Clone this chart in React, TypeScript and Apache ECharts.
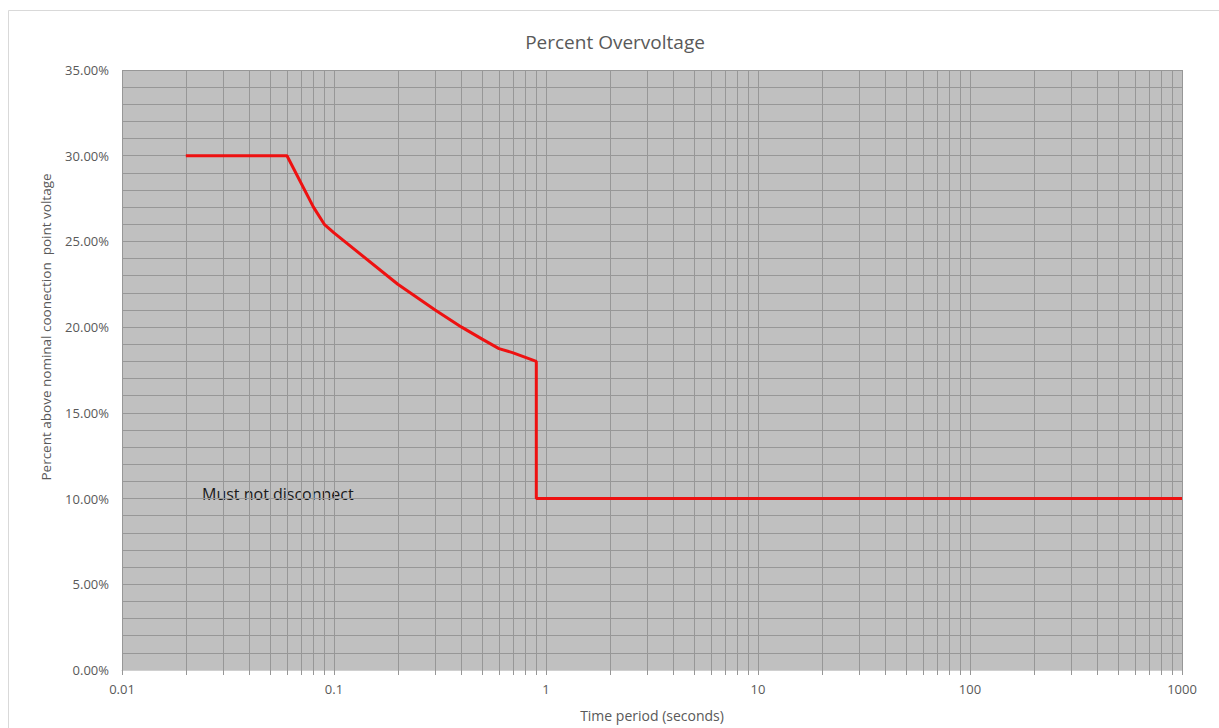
import React, { useEffect, useRef } from "react";
import * as echarts from "echarts";

const titleText = "Percent Overvoltage";
const xAxisTitle = "Time period (seconds)";
const yAxisTitle = "Percent above nominal coonection  point voltage";
const annotation = "Must not disconnect";

// Time (s) and percent above nominal voltage
const timeSeconds = [0.02, 0.06, 0.08, 0.09, 0.1, 0.2, 0.3, 0.4, 0.5, 0.6, 0.7, 0.9, 0.9, 1000];
const percentAbove = [30, 30, 27, 26, 25.5, 22.5, 21, 20, 19.3, 18.75, 18.5, 18, 10, 10];

const xMin = 0.01;
const xMax = 1000;
const yMin = 0;
const yMax = 35;
const yInterval = 5;

const fmtX = (v: number) => {
  const e = Math.round(Math.log10(v));
  if (e < 0) return (10 ** e).toFixed(-e);
  return String(Math.round(10 ** e));
};

export default function App() {
  const ref = useRef<HTMLDivElement>(null);
  useEffect(() => {
    if (!ref.current) return;
    const chart = echarts.init(ref.current, undefined, { renderer: "svg" });
    const data = timeSeconds.map((t, i) => [t, percentAbove[i]]);
    const gridColor = "#979797";
    const labelColor = "#595959";
    const font = "'Open Sans', 'Noto Sans', sans-serif";
    chart.setOption({
      animation: false,
      backgroundColor: "#ffffff",
      title: {
        text: titleText,
        left: 610,
        textAlign: "center",
        top: 27,
        textStyle: { fontFamily: font, fontSize: 19, fontWeight: "normal", color: labelColor },
      },
      grid: { left: 122, width: 1060, top: 70, height: 600, show: true, backgroundColor: "#c0c0c0", borderWidth: 0 },
      xAxis: {
        type: "log",
        logBase: 10,
        min: xMin,
        max: xMax,
        name: xAxisTitle,
        nameLocation: "middle",
        nameGap: 38,
        nameTextStyle: { fontFamily: font, fontSize: 14, color: labelColor },
        axisLine: { show: true, lineStyle: { color: "#d0d0d0", width: 1 } },
        axisTick: { show: true, length: 5, lineStyle: { color: gridColor } },
        minorTick: { show: true, splitNumber: 9, length: 5, lineStyle: { color: gridColor } },
        splitLine: { show: true, lineStyle: { color: gridColor, width: 1 } },
        minorSplitLine: { show: true, lineStyle: { color: gridColor, width: 1 } },
        axisLabel: { formatter: fmtX, fontFamily: font, fontSize: 13, color: labelColor, margin: 12 },
      },
      yAxis: {
        type: "value",
        min: yMin,
        max: yMax,
        interval: yInterval,
        axisLine: { show: false },
        axisTick: { show: false },
        minorTick: { show: false, splitNumber: 5 },
        splitLine: { show: true, lineStyle: { color: gridColor, width: 1 } },
        minorSplitLine: { show: true, lineStyle: { color: gridColor, width: 1 } },
        axisLabel: {
          formatter: (v: number) => v.toFixed(2) + "%",
          fontFamily: font,
          fontSize: 13,
          color: labelColor,
          margin: 13,
        },
      },
      graphic: [
        {
          type: "rect",
          shape: { x: 8.5, y: 10.5, width: 1300, height: 800 },
          style: { fill: "none", stroke: "#d9d9d9", lineWidth: 1 },
          silent: true,
        },
        {
          type: "text",
          x: 46,
          y: 327,
          rotation: Math.PI / 2,
          style: {
            text: yAxisTitle,
            fontFamily: font,
            fontSize: 13.5,
            fill: labelColor,
            align: "center",
            verticalAlign: "middle",
          },
        },
        {
          type: "text",
          x: 202,
          y: 494,
          style: {
            text: annotation,
            fontFamily: font,
            fontSize: 16,
            fill: "#1a1a1a",
            align: "left",
            verticalAlign: "middle",
          },
        },
      ],
      series: [
        {
          type: "line",
          data,
          showSymbol: false,
          symbol: "none",
          lineStyle: { color: "#ee1111", width: 3 },
        },
      ],
    });
    return () => chart.dispose();
  }, []);
  return (
    <div
      ref={ref}
      style={{ position: "fixed", left: 0, top: 0, width: 1219, height: 728 }}
    />
  );
}
